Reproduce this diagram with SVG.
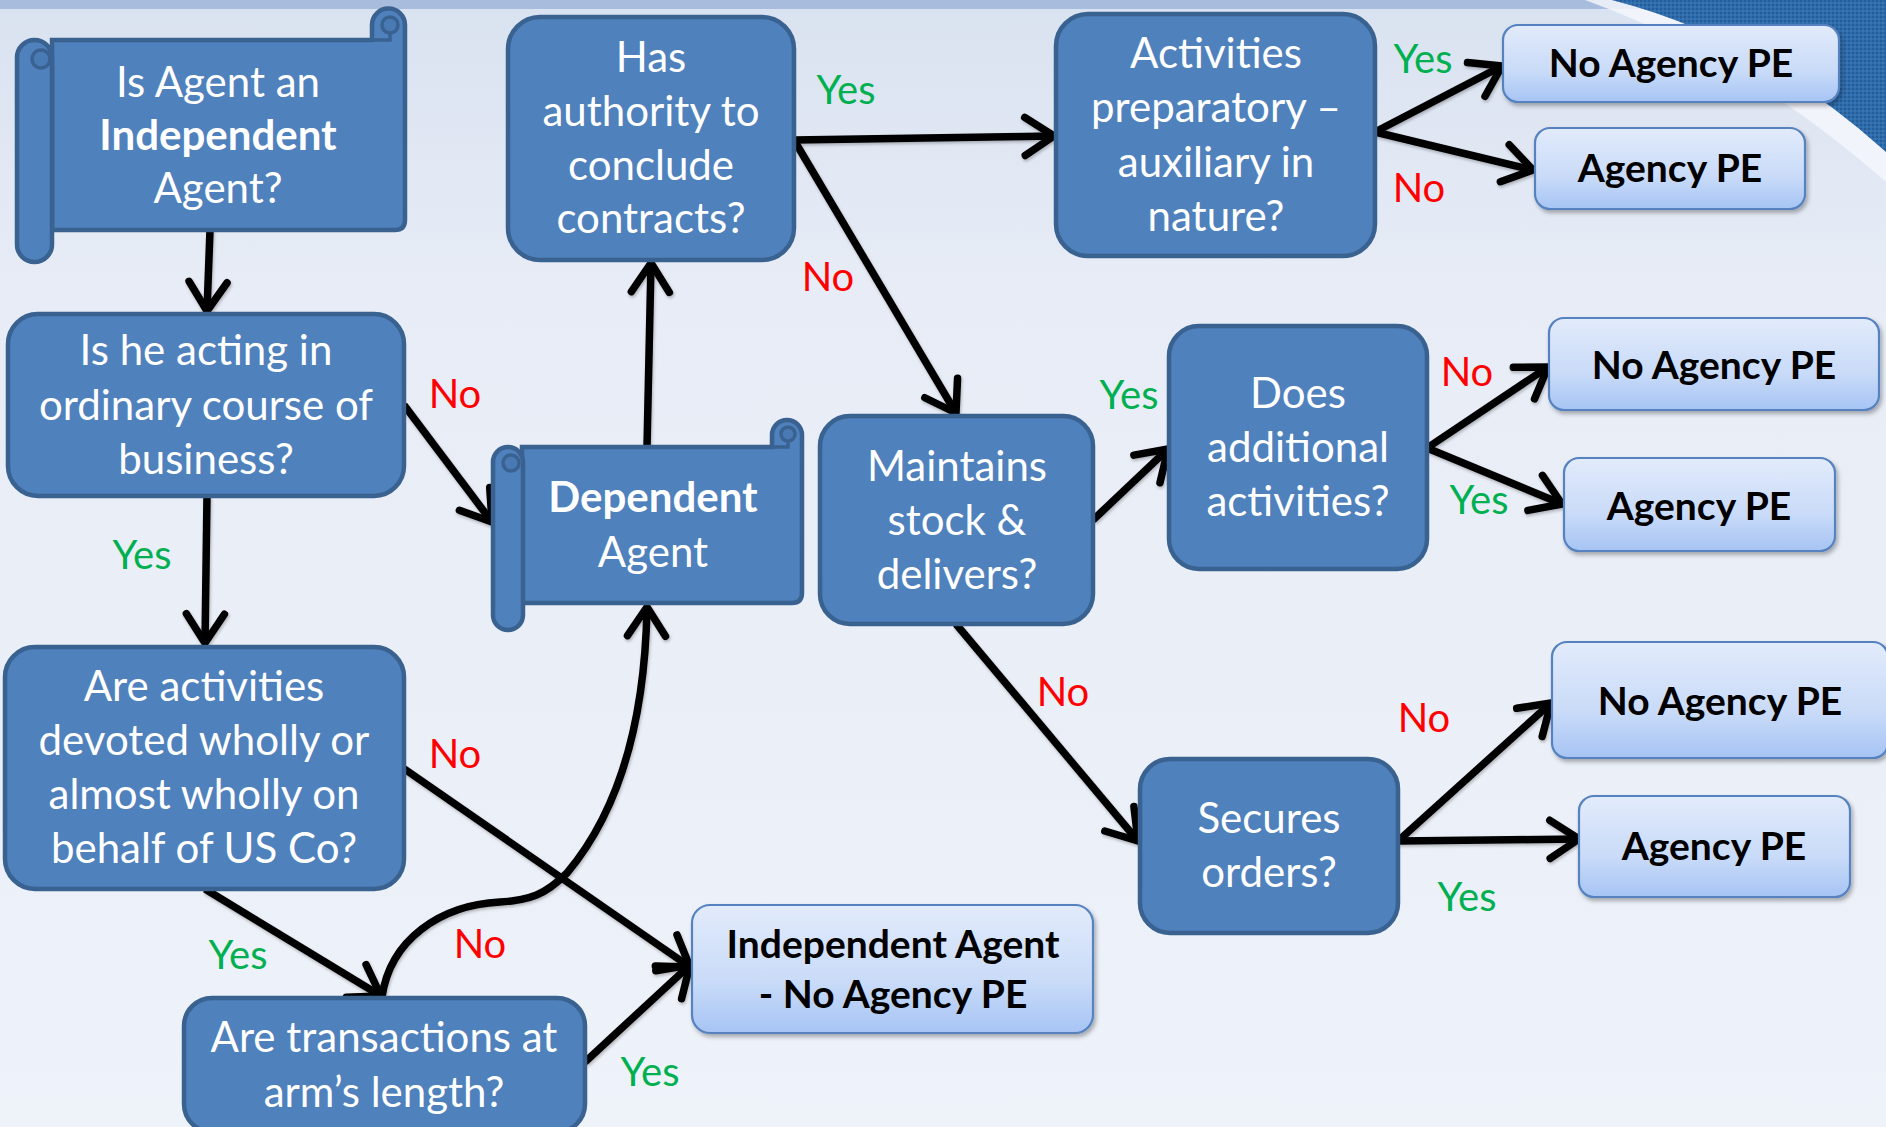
<svg xmlns="http://www.w3.org/2000/svg" width="1886" height="1127" viewBox="0 0 1886 1127">
<defs>
<linearGradient id="bg" x1="0" y1="0" x2="0" y2="1">
<stop offset="0" stop-color="#d9e2f0"/>
<stop offset="0.25" stop-color="#e7ecf6"/>
<stop offset="1" stop-color="#eef2f9"/>
</linearGradient>
<linearGradient id="lightFill" x1="0" y1="0" x2="0" y2="1">
<stop offset="0" stop-color="#e2ebfb"/>
<stop offset="0.6" stop-color="#c9dbf8"/>
<stop offset="1" stop-color="#a6c4f4"/>
</linearGradient>
<pattern id="dots" width="4" height="4" patternUnits="userSpaceOnUse">
<rect width="4" height="4" fill="#2f6cab"/>
<circle cx="1" cy="1" r="0.9" fill="#1f5590"/>
<circle cx="3" cy="3" r="0.9" fill="#3a7ab8"/>
</pattern>
<filter id="shadow" x="-10%" y="-10%" width="130%" height="140%">
<feDropShadow dx="2" dy="3" stdDeviation="2" flood-color="#000" flood-opacity="0.3"/>
</filter>
<filter id="lshadow" x="-10%" y="-10%" width="130%" height="130%">
<feDropShadow dx="1" dy="2" stdDeviation="1.5" flood-color="#000" flood-opacity="0.25"/>
</filter>
<marker id="arr" markerUnits="userSpaceOnUse" viewBox="-40 -30 50 60" markerWidth="50" markerHeight="60" refX="0" refY="0" orient="auto" overflow="visible">
<path d="M-29,-19 L0,0 L-29,19" fill="none" stroke="#000" stroke-width="7.5" stroke-linecap="round" stroke-linejoin="round"/>
</marker>
</defs>
<style>
.dark{fill:#4f81bd;stroke:#3a6291;stroke-width:4.5}
.curl{fill:#4a7ab4;stroke:#3a6291;stroke-width:3.5}
.light{fill:url(#lightFill);stroke:#5683c0;stroke-width:2.2;filter:url(#shadow)}
.wt{font-family:Lato,"Open Sans","Liberation Sans",sans-serif;font-size:42px;fill:#ffffff;text-anchor:middle}
.wtb{font-weight:bold}
.bt{font-family:Lato,"Open Sans","Liberation Sans",sans-serif;font-size:39px;font-weight:bold;fill:#000000;text-anchor:middle}
.lbl{font-family:Lato,"Open Sans","Liberation Sans",sans-serif;font-size:40px;text-anchor:middle}
.yes{fill:#00b050}
.no{fill:#ff0000}
.conn{fill:none;stroke:#000;stroke-width:7.5;stroke-linecap:butt;marker-end:url(#arr)}
</style>

<!-- background -->
<rect x="0" y="0" width="1886" height="1127" fill="url(#bg)"/>
<rect x="0" y="0" width="1886" height="9" fill="#a8bcdd"/>
<path d="M1585,0 Q1745,58 1886,182 L1886,150 Q1760,38 1612,0 Z" fill="#f6f8fc" opacity="0.8"/>
<path d="M1612,0 Q1760,38 1886,152 L1886,0 Z" fill="url(#dots)"/>

<!-- connectors -->
<g id="connectors" filter="url(#lshadow)">
<path class="conn" d="M210,230 L207,311"/>
<path class="conn" d="M404,405 L492,522"/>
<path class="conn" d="M207,496 L205,643"/>
<path class="conn" d="M403,768 L690,967"/>
<path class="conn" d="M205,889 L381,996"/>
<path class="conn" d="M382,997 C390,940 440,905 500,902 C530,900 545,895 567,873 C620,810 645,720 647,607"/>
<path class="conn" d="M585,1062 L690,965"/>
<path class="conn" d="M647,447 L651,263"/>
<path class="conn" d="M794,140 L1054,136"/>
<path class="conn" d="M794,140 L956,413"/>
<path class="conn" d="M1375,132 L1502,66"/>
<path class="conn" d="M1375,132 L1533,170"/>
<path class="conn" d="M1093,520 L1168,449"/>
<path class="conn" d="M1427,448 L1548,367"/>
<path class="conn" d="M1427,448 L1562,504"/>
<path class="conn" d="M956,624 L1138,841"/>
<path class="conn" d="M1398,841 L1551,703"/>
<path class="conn" d="M1398,841 L1579,839"/>
</g>

<!-- labels -->
<g id="labels">
<text class="lbl no" x="455" y="408">No</text>
<text class="lbl yes" x="142" y="569">Yes</text>
<text class="lbl no" x="455" y="768">No</text>
<text class="lbl yes" x="238" y="969">Yes</text>
<text class="lbl no" x="480" y="958">No</text>
<text class="lbl yes" x="650" y="1086">Yes</text>
<text class="lbl yes" x="846" y="104">Yes</text>
<text class="lbl no" x="828" y="291">No</text>
<text class="lbl yes" x="1423" y="73">Yes</text>
<text class="lbl no" x="1419" y="202">No</text>
<text class="lbl yes" x="1129" y="409">Yes</text>
<text class="lbl no" x="1467" y="386">No</text>
<text class="lbl yes" x="1479" y="514">Yes</text>
<text class="lbl no" x="1063" y="706">No</text>
<text class="lbl no" x="1424" y="732">No</text>
<text class="lbl yes" x="1467" y="911">Yes</text>
</g>

<!-- Node 1: scroll -->
<g id="n-independent-q">
<path class="dark" d="M52,40 H372 V25 A16.5,16.5 0 0 1 405,25 V220 Q405,230 395,230 H52 Z"/>
<circle class="curl" cx="390" cy="25" r="8"/>
<path d="M372,40 H390 V33" fill="none" stroke="#3a6291" stroke-width="3.5"/>
<rect class="dark" x="17" y="40" width="35" height="222" rx="17.5"/>
<circle class="curl" cx="41" cy="59" r="9"/>
<text class="wt" x="218" y="97">Is Agent an</text>
<text class="wt wtb" x="218" y="150">Independent</text>
<text class="wt" x="218" y="203">Agent?</text>
</g>

<!-- Node 2 -->
<g id="n-ordinary">
<rect class="dark" x="8" y="314" width="396" height="182" rx="30"/>
<text class="wt" x="206" y="365">Is he acting in</text>
<text class="wt" x="206" y="420">ordinary course of</text>
<text class="wt" x="206" y="474">business?</text>
</g>

<!-- Node 3 -->
<g id="n-devoted">
<rect class="dark" x="5" y="647" width="399" height="242" rx="30"/>
<text class="wt" x="204" y="701">Are activities</text>
<text class="wt" x="204" y="755">devoted wholly or</text>
<text class="wt" x="204" y="809">almost wholly on</text>
<text class="wt" x="204" y="863">behalf of US Co?</text>
</g>

<!-- Node 4 -->
<g id="n-arms-length">
<rect class="dark" x="184" y="998" width="401" height="134" rx="28"/>
<text class="wt" x="384" y="1052">Are transactions at</text>
<text class="wt" x="384" y="1107">arm’s length?</text>
</g>

<!-- Node 5: Dependent Agent scroll -->
<g id="n-dependent">
<path class="dark" d="M522,447 H772 V435 A15,15 0 0 1 802,435 V593 Q802,603 792,603 H522 Z"/>
<circle class="curl" cx="788" cy="434" r="7"/>
<path d="M772,447 H788 V441" fill="none" stroke="#3a6291" stroke-width="3.5"/>
<rect class="dark" x="493" y="447" width="30" height="183" rx="15"/>
<circle class="curl" cx="511" cy="463" r="8"/>
<text class="wt wtb" x="653" y="512">Dependent</text>
<text class="wt" x="653" y="567">Agent</text>
</g>

<!-- Node 6 -->
<g id="n-authority">
<rect class="dark" x="508" y="17" width="286" height="243" rx="32"/>
<text class="wt" x="651" y="72">Has</text>
<text class="wt" x="651" y="126">authority to</text>
<text class="wt" x="651" y="180">conclude</text>
<text class="wt" x="651" y="233">contracts?</text>
</g>

<!-- Node 7 -->
<g id="n-preparatory">
<rect class="dark" x="1056" y="14" width="319" height="242" rx="32"/>
<text class="wt" x="1216" y="68">Activities</text>
<text class="wt" x="1216" y="122">preparatory –</text>
<text class="wt" x="1216" y="177">auxiliary in</text>
<text class="wt" x="1216" y="231">nature?</text>
</g>

<!-- Node 8, 9 -->
<g id="n-noagency-1">
<rect class="light" x="1503" y="25" width="336" height="77" rx="15"/>
<text class="bt" x="1671" y="77">No Agency PE</text>
</g>
<g id="n-agency-1">
<rect class="light" x="1535" y="128" width="270" height="81" rx="15"/>
<text class="bt" x="1670" y="182">Agency PE</text>
</g>

<!-- Node 10 -->
<g id="n-additional">
<rect class="dark" x="1169" y="326" width="258" height="243" rx="30"/>
<text class="wt" x="1298" y="408">Does</text>
<text class="wt" x="1298" y="462">additional</text>
<text class="wt" x="1298" y="516">activities?</text>
</g>

<!-- Node 11 -->
<g id="n-stock">
<rect class="dark" x="820" y="416" width="273" height="208" rx="30"/>
<text class="wt" x="957" y="481">Maintains</text>
<text class="wt" x="957" y="535">stock &amp;</text>
<text class="wt" x="957" y="589">delivers?</text>
</g>

<!-- Node 12, 13 -->
<g id="n-noagency-2">
<rect class="light" x="1549" y="318" width="330" height="92" rx="15"/>
<text class="bt" x="1714" y="379">No Agency PE</text>
</g>
<g id="n-agency-2">
<rect class="light" x="1564" y="458" width="271" height="93" rx="15"/>
<text class="bt" x="1699" y="520">Agency PE</text>
</g>

<!-- Node 14 -->
<g id="n-secures">
<rect class="dark" x="1140" y="759" width="258" height="174" rx="30"/>
<text class="wt" x="1269" y="833">Secures</text>
<text class="wt" x="1269" y="887">orders?</text>
</g>

<!-- Node 15, 16 -->
<g id="n-noagency-3">
<rect class="light" x="1552" y="642" width="336" height="116" rx="15"/>
<text class="bt" x="1720" y="715">No Agency PE</text>
</g>
<g id="n-agency-3">
<rect class="light" x="1579" y="796" width="271" height="101" rx="15"/>
<text class="bt" x="1714" y="860">Agency PE</text>
</g>

<!-- Node 17 -->
<g id="n-indep-result">
<rect class="light" x="692" y="905" width="401" height="128" rx="18"/>
<text class="bt" x="893" y="958">Independent Agent</text>
<text class="bt" x="893" y="1008">- No Agency PE</text>
</g>
</svg>
